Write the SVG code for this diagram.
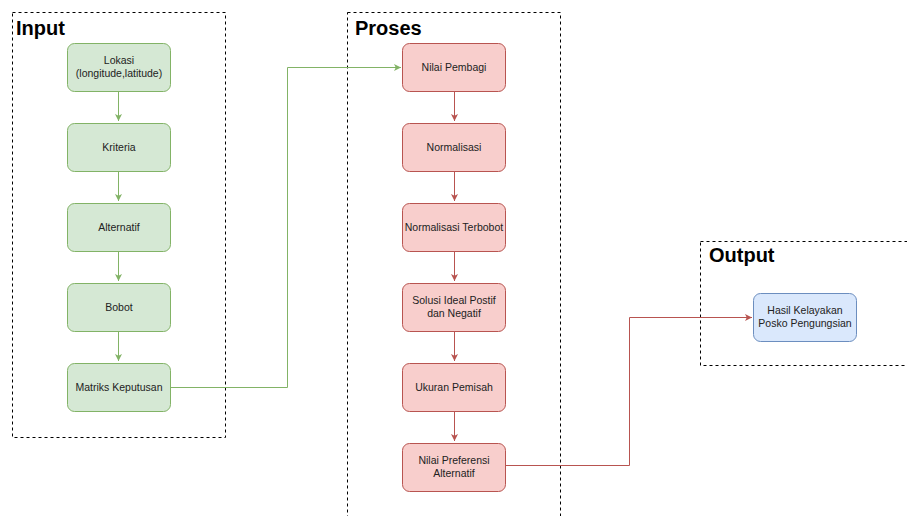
<svg xmlns="http://www.w3.org/2000/svg" width="907" height="516" viewBox="0 0 907 516">
<defs>
<style>
.cont{fill:none;stroke:#000;stroke-width:1;stroke-dasharray:3 3}
.title{font-family:"Liberation Sans",Arial,sans-serif;font-weight:bold;font-size:20px;fill:#000}
.g{fill:#d5e8d4;stroke:#82b366;stroke-width:1}
.r{fill:#f8cecc;stroke:#b85450;stroke-width:1}
.b{fill:#dae8fc;stroke:#6c8ebf;stroke-width:1}
.t{font-family:"Liberation Sans",Arial,sans-serif;font-size:10.5px;fill:#222;text-anchor:middle}
.cg{fill:none;stroke:#82b366;stroke-width:1}
.cr{fill:none;stroke:#b85450;stroke-width:1}
</style>
<marker id="ag" viewBox="0 0 10 10" refX="10" refY="5" markerWidth="7" markerHeight="7" orient="auto" markerUnits="userSpaceOnUse"><path d="M0,0 L10,5 L0,10 L2.5,5 Z" fill="#82b366"/></marker>
<marker id="ar" viewBox="0 0 10 10" refX="10" refY="5" markerWidth="7" markerHeight="7" orient="auto" markerUnits="userSpaceOnUse"><path d="M0,0 L10,5 L0,10 L2.5,5 Z" fill="#b85450"/></marker>
</defs>
<rect width="907" height="516" fill="#fff"/>
<g id="input-container"><rect class="cont" x="12.5" y="12.5" width="213" height="425"/><text class="title" x="16" y="35">Input</text></g>
<g id="proses-container"><rect class="cont" x="347.5" y="12.5" width="213" height="520"/><text class="title" x="355" y="35">Proses</text></g>
<g id="output-container"><rect class="cont" x="700.5" y="241.5" width="220" height="124"/><text class="title" x="709" y="262">Output</text></g>
<g id="connectors">
<path class="cg" d="M118.5,91 V121" marker-end="url(#ag)"/>
<path class="cg" d="M118.5,171 V201" marker-end="url(#ag)"/>
<path class="cg" d="M118.5,251 V281" marker-end="url(#ag)"/>
<path class="cg" d="M118.5,331 V361" marker-end="url(#ag)"/>
<path class="cg" d="M170,387.5 H287.5 V67.5 H401" marker-end="url(#ag)"/>
<path class="cr" d="M454.5,91 V121" marker-end="url(#ar)"/>
<path class="cr" d="M454.5,171 V201" marker-end="url(#ar)"/>
<path class="cr" d="M454.5,251 V281" marker-end="url(#ar)"/>
<path class="cr" d="M454.5,331 V361" marker-end="url(#ar)"/>
<path class="cr" d="M454.5,411 V441" marker-end="url(#ar)"/>
<path class="cr" d="M505,465.5 H629.5 V317.5 H752" marker-end="url(#ar)"/>
</g>
<g id="lokasi"><rect class="g" x="67.5" y="43.5" width="103" height="48" rx="7"/><text class="t" x="119" y="64">Lokasi</text><text class="t" x="119" y="77">(longitude,latitude)</text></g>
<g id="kriteria"><rect class="g" x="67.5" y="123.5" width="103" height="48" rx="7"/><text class="t" x="119" y="151">Kriteria</text></g>
<g id="alternatif"><rect class="g" x="67.5" y="203.5" width="103" height="48" rx="7"/><text class="t" x="119" y="231">Alternatif</text></g>
<g id="bobot"><rect class="g" x="67.5" y="283.5" width="103" height="48" rx="7"/><text class="t" x="119" y="311">Bobot</text></g>
<g id="matriks"><rect class="g" x="67.5" y="363.5" width="103" height="48" rx="7"/><text class="t" x="119" y="391">Matriks Keputusan</text></g>
<g id="nilai-pembagi"><rect class="r" x="402.5" y="43.5" width="103" height="48" rx="7"/><text class="t" x="454" y="71">Nilai Pembagi</text></g>
<g id="normalisasi"><rect class="r" x="402.5" y="123.5" width="103" height="48" rx="7"/><text class="t" x="454" y="151">Normalisasi</text></g>
<g id="normalisasi-terbobot"><rect class="r" x="402.5" y="203.5" width="103" height="48" rx="7"/><text class="t" x="454" y="231">Normalisasi Terbobot</text></g>
<g id="solusi"><rect class="r" x="402.5" y="283.5" width="103" height="48" rx="7"/><text class="t" x="454" y="304">Solusi Ideal Postif</text><text class="t" x="454" y="317">dan Negatif</text></g>
<g id="ukuran"><rect class="r" x="402.5" y="363.5" width="103" height="48" rx="7"/><text class="t" x="454" y="391">Ukuran Pemisah</text></g>
<g id="preferensi"><rect class="r" x="402.5" y="443.5" width="103" height="48" rx="7"/><text class="t" x="454" y="464">Nilai Preferensi</text><text class="t" x="454" y="477">Alternatif</text></g>
<g id="hasil"><rect class="b" x="753.5" y="293.5" width="103" height="48" rx="7"/><text class="t" x="805" y="314">Hasil Kelayakan</text><text class="t" x="805" y="327">Posko Pengungsian</text></g>
</svg>
